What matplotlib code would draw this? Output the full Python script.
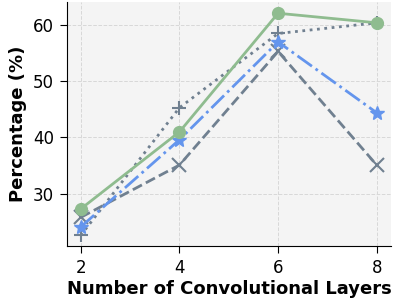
import matplotlib
matplotlib.use("Agg")
import matplotlib.pyplot as plt

layers = [2, 4, 6, 8]
green_vals = [27.3, 41.0, 62.1, 60.4]
blue_vals = [24.1, 39.6, 57.0, 44.4]
gray_x_vals = [25.8, 35.1, 55.3, 35.1]
gray_plus_vals = [22.6, 45.3, 58.5, 60.4]

fig = plt.figure(figsize=(3.99, 3.05), dpi=100)
ax = fig.add_axes([67/399, 1-246/305, (391-67)/399, (246-2)/305])
ax.set_facecolor('#f4f4f4')
ax.grid(True, linestyle='--', color='#d8d8d8', linewidth=0.7)
ax.set_axisbelow(True)

ax.plot(layers, gray_plus_vals, linestyle=':', marker='+', color='#708090', linewidth=2.0, markersize=10, markeredgewidth=1.5)
ax.plot(layers, gray_x_vals, linestyle='--', marker='x', color='#708090', linewidth=2.0, markersize=10, markeredgewidth=1.5)
ax.plot(layers, blue_vals, linestyle='-.', marker='*', color='#6495ED', linewidth=2.0, markersize=10)
ax.plot(layers, green_vals, linestyle='-', marker='o', color='#8fbc8f', linewidth=2.0, markersize=8.5)

ax.set_xlim(1.72, 8.29)
ax.set_ylim(20.7, 64.1)
ax.set_xticks(layers)
ax.set_yticks([30, 40, 50, 60])
ax.tick_params(labelsize=12, length=5, pad=4.5)
for s in ['top', 'right']:
    ax.spines[s].set_visible(False)
ax.set_xlabel('Number of Convolutional Layers', fontsize=13, fontweight='bold', labelpad=2)
ax.set_ylabel('Percentage (%)', fontsize=13, fontweight='bold', labelpad=4)

fig.savefig('out.png', dpi=100)
